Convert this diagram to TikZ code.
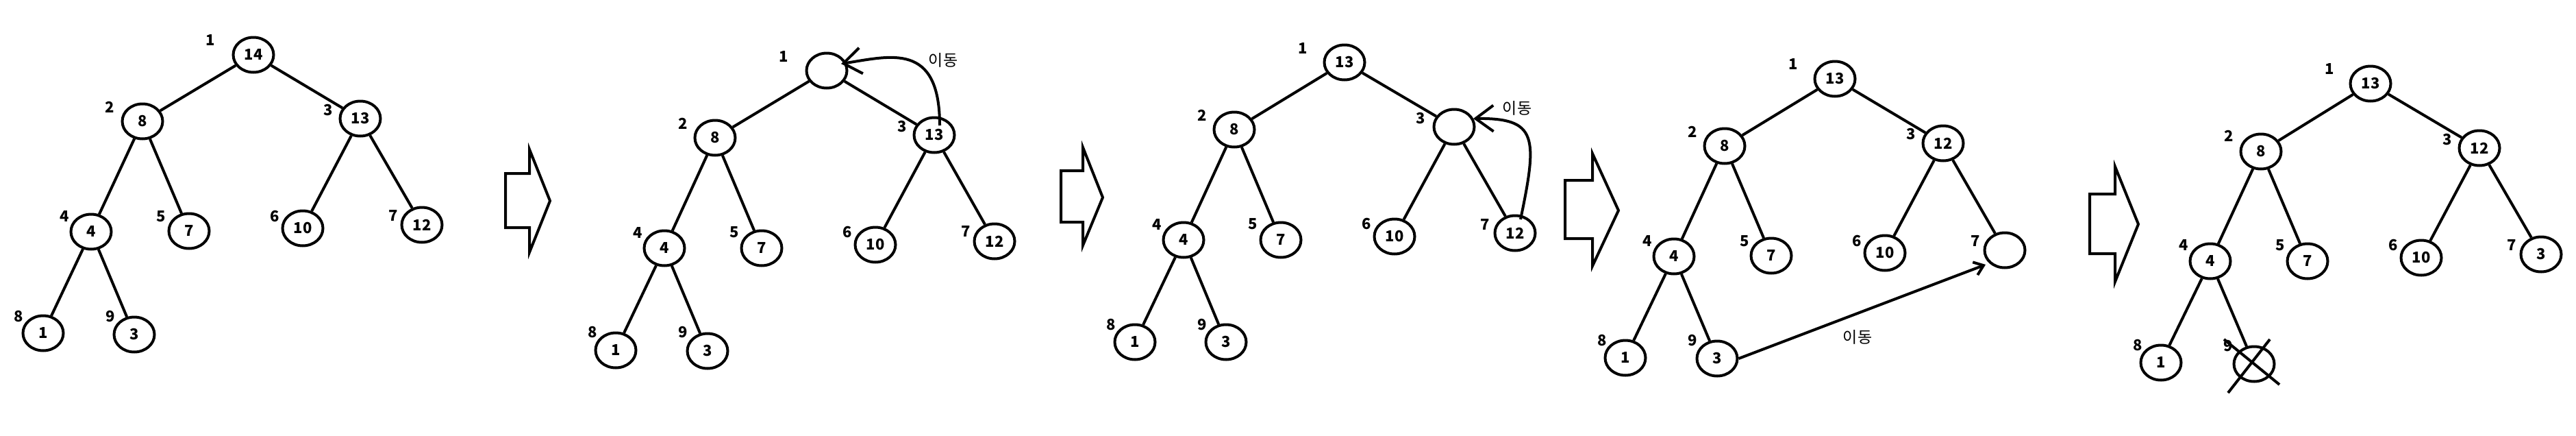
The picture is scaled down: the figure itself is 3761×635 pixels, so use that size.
\documentclass[tikz,border=0pt]{standalone}
\usepackage{fontspec}
\newfontfamily\krfont{Noto Sans CJK KR}
\usetikzlibrary{shapes.geometric,arrows.meta}
\tikzset{
 hn/.style={ellipse,draw,line width=4pt,minimum width=59pt,minimum height=51pt,inner sep=0pt,font=\krfont\bfseries\fontsize{22}{24}\selectfont},
 idx/.style={inner sep=0pt,font=\krfont\bfseries\fontsize{22}{24}\selectfont},
 mv/.style={inner sep=0pt,font=\krfont\fontsize{23}{25}\selectfont},
 lk/.style={line width=4pt},
 bigarrow/.style={line width=4pt,line join=miter},
 mvcurve/.style={line width=4pt,-{Straight Barb[length=26pt,width=38pt]}},
 mvline/.style={line width=4pt,-{Straight Barb[length=13pt,width=20pt]}},
}
\begin{document}
\begin{tikzpicture}[x=1pt,y=-1pt]
\useasboundingbox[fill=white] (0,0) rectangle (3761,635);

% ---------- Tree 1 ----------
\node[hn] (a1) at (370,80) {14};
\node[hn] (a2) at (208,177) {8};
\node[hn] (a3) at (526,173) {13};
\node[hn] (a4) at (133,338) {4};
\node[hn] (a5) at (276,337) {7};
\node[hn] (a6) at (442,333) {10};
\node[hn] (a7) at (616,328) {12};
\node[hn] (a8) at (63,486) {1};
\node[hn] (a9) at (196,488) {3};
\node[idx] (al1) at (307,59) {1};
\node[idx] (al2) at (160,156) {2};
\node[idx] (al3) at (479,161) {3};
\node[idx] (al4) at (94,316) {4};
\node[idx] (al5) at (235,316) {5};
\node[idx] (al6) at (401,316) {6};
\node[idx] (al7) at (574,315) {7};
\node[idx] (al8) at (27,462) {8};
\node[idx] (al9) at (161,462) {9};
\draw[lk] (a1)--(a2) (a1)--(a3) (a2)--(a4) (a2)--(a5) (a3)--(a6) (a3)--(a7) (a4)--(a8) (a4)--(a9);

\draw[bigarrow] (738,253) -- (773,253) -- (773,218) -- (803,293) -- (773,368) -- (773,332) -- (738,332) -- cycle;

% ---------- Tree 2 ----------
\node[hn] (b1) at (1207,103) {};
\node[hn] (b2) at (1044,201) {8};
\node[hn] (b3) at (1364,197) {13};
\node[hn] (b4) at (970,362) {4};
\node[hn] (b5) at (1112,362) {7};
\node[hn] (b6) at (1278,357) {10};
\node[hn] (b7) at (1452,352) {12};
\node[hn] (b8) at (899,511) {1};
\node[hn] (b9) at (1033,512) {3};
\node[idx] (bl1) at (1144,83) {1};
\node[idx] (bl2) at (997,180) {2};
\node[idx] (bl3) at (1317,185) {3};
\node[idx] (bl4) at (931,340) {4};
\node[idx] (bl5) at (1072,339) {5};
\node[idx] (bl6) at (1237,339) {6};
\node[idx] (bl7) at (1410,338) {7};
\node[idx] (bl8) at (865,485) {8};
\node[idx] (bl9) at (997,485) {9};
\draw[lk] (b1)--(b2) (b1)--(b3) (b2)--(b4) (b2)--(b5) (b3)--(b6) (b3)--(b7) (b4)--(b8) (b4)--(b9);
\node[mv] (bm) at (1377,88) {이동};
\coordinate (bs) at (1372,183);
\coordinate (bt) at (1228,93);
\draw[mvcurve] (bs) .. controls (1372,60) and (1300,82) .. (bt);

\draw[bigarrow] (1549,249) -- (1581,249) -- (1581,215) -- (1610,288) -- (1581,358) -- (1581,324) -- (1549,324) -- cycle;

% ---------- Tree 3 ----------
\node[hn] (c1) at (1963,91) {13};
\node[hn] (c2) at (1802,189) {8};
\node[hn] (c3) at (2123,185) {};
\node[hn] (c4) at (1728,350) {4};
\node[hn] (c5) at (1870,350) {7};
\node[hn] (c6) at (2036,345) {10};
\node[hn] (c7) at (2212,340) {12};
\node[hn] (c8) at (1657,499) {1};
\node[hn] (c9) at (1790,499) {3};
\node[idx] (cl1) at (1902,71) {1};
\node[idx] (cl2) at (1755,168) {2};
\node[idx] (cl3) at (2074,173) {3};
\node[idx] (cl4) at (1689,328) {4};
\node[idx] (cl5) at (1829,327) {5};
\node[idx] (cl6) at (1995,327) {6};
\node[idx] (cl7) at (2168,328) {7};
\node[idx] (cl8) at (1622,474) {8};
\node[idx] (cl9) at (1755,474) {9};
\draw[lk] (c1)--(c2) (c1)--(c3) (c2)--(c4) (c2)--(c5) (c3)--(c6) (c3)--(c7) (c4)--(c8) (c4)--(c9);
\node[mv] (cm) at (2215,158) {이동};
\coordinate (cs) at (2220,320);
\coordinate (ct) at (2151,173);
\draw[mvcurve] (cs) .. controls (2245,200) and (2245,172) .. (ct);

\draw[bigarrow] (2285,263) -- (2325,263) -- (2325,224) -- (2363,307) -- (2325,388) -- (2325,348) -- (2285,348) -- cycle;

% ---------- Tree 4 ----------
\node[hn] (d1) at (2679,115) {13};
\node[hn] (d2) at (2518,213) {8};
\node[hn] (d3) at (2837,209) {12};
\node[hn] (d4) at (2444,374) {4};
\node[hn] (d5) at (2586,373) {7};
\node[hn] (d6) at (2752,369) {10};
\node[hn] (d7) at (2927,365) {};
\node[hn] (d8) at (2373,522) {1};
\node[hn] (d9) at (2507,523) {3};
\node[idx] (dl1) at (2618,94) {1};
\node[idx] (dl2) at (2471,192) {2};
\node[idx] (dl3) at (2790,196) {3};
\node[idx] (dl4) at (2405,352) {4};
\node[idx] (dl5) at (2547,352) {5};
\node[idx] (dl6) at (2711,352) {6};
\node[idx] (dl7) at (2884,352) {7};
\node[idx] (dl8) at (2339,497) {8};
\node[idx] (dl9) at (2471,497) {9};
\draw[lk] (d1)--(d2) (d1)--(d3) (d2)--(d4) (d2)--(d5) (d3)--(d6) (d3)--(d7) (d4)--(d8) (d4)--(d9);
\node[mv] (dm) at (2712,492) {이동};
\coordinate (dt) at (2899,386);
\draw[mvline] (d9.east) -- (dt);

\draw[bigarrow] (3051,283) -- (3088,283) -- (3088,243) -- (3122,327) -- (3088,411) -- (3088,370) -- (3051,370) -- cycle;

% ---------- Tree 5 ----------
\node[hn] (e1) at (3461,122) {13};
\node[hn] (e2) at (3301,221) {8};
\node[hn] (e3) at (3620,216) {12};
\node[hn] (e4) at (3227,381) {4};
\node[hn] (e5) at (3369,381) {7};
\node[hn] (e6) at (3535,376) {10};
\node[hn] (e7) at (3710,371) {3};
\node[hn] (e8) at (3155,529) {1};
\node[hn] (e9) at (3291,531) {};
\node[idx] (el1) at (3401,101) {1};
\node[idx] (el2) at (3254,198) {2};
\node[idx] (el3) at (3573,204) {3};
\node[idx] (el4) at (3188,358) {4};
\node[idx] (el5) at (3329,358) {5};
\node[idx] (el6) at (3494,358) {6};
\node[idx] (el7) at (3667,358) {7};
\node[idx] (el8) at (3121,504) {8};
\node[idx] (el9) at (3253,505) {9};
\draw[lk] (e1)--(e2) (e1)--(e3) (e2)--(e4) (e2)--(e5) (e3)--(e6) (e3)--(e7) (e4)--(e8) (e4)--(e9);
\coordinate (xa1) at (3247,495);
\coordinate (xa2) at (3328,561);
\coordinate (xb1) at (3314,495);
\coordinate (xb2) at (3253,573);
\draw[lk] (xa1) -- (xa2);
\draw[lk] (xb1) -- (xb2);
\end{tikzpicture}
\end{document}
